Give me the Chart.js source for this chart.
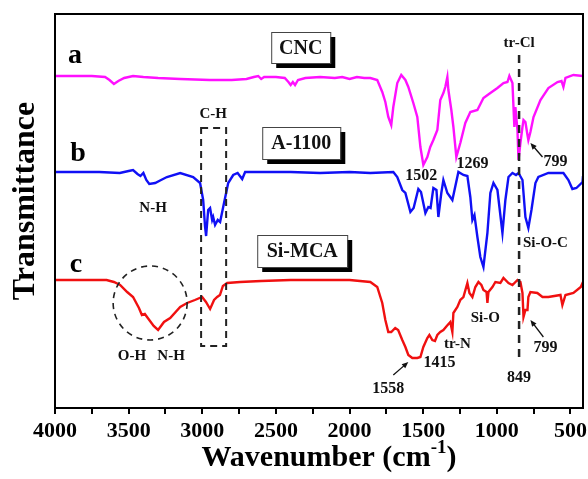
<!DOCTYPE html>
<html>
<head>
<meta charset="utf-8">
<script src="https://cdn.jsdelivr.net/npm/chart.js@4.4.0/dist/chart.umd.min.js"></script>
<style>
  html, body { margin: 0; padding: 0; background: #fff; }
  #wrap { width: 588px; height: 479px; }
</style>
</head>
<body>
<div id="wrap"><canvas id="ftir" width="588" height="479"></canvas></div>
<script>
// x axis ticks (wavenumber, cm-1)
const xTickValues = [4000, 3750, 3500, 3250, 3000, 2750, 2500, 2250, 2000, 1750, 1500, 1250, 1000, 750, 500];
const xLabels = [4000, 3500, 3000, 2500, 2000, 1500, 1000, 500];

// [wavenumber, offset transmittance]
const cncPoints = [
  [4000,83],[3750,83],[3660,82.75],[3630,82],[3600,81],[3570,81.75],[3530,82.5],[3470,83],[3400,82.75],
  [3300,82.5],[3150,82.25],[2950,82],[2800,82],[2700,82.25],[2650,82.75],[2620,83],[2600,82.25],[2580,82.75],
  [2500,82.75],[2440,82.5],[2415,81.5],[2400,80.75],[2385,81.5],[2370,80.75],[2350,82],[2300,82.5],[2200,82.75],
  [2100,82.5],[2050,82.75],[2000,82.25],[1950,82.75],[1900,82.5],[1859,82.5],[1812,82],[1778,79],[1757,76.5],
  [1737,72.75],[1717,70.75],[1703,75.25],[1676,81.25],[1649,83.25],[1621,82],[1601,80.25],[1567,76.25],
  [1540,72.75],[1519,65.25],[1499,60.75],[1472,62.75],[1452,65.25],[1431,67],[1404,69.5],[1384,77],[1363,78.75],
  [1350,80.25],[1336,82.75],[1329,79.5],[1316,76.25],[1309,74.5],[1295,70.25],[1275,62.75],[1248,66.25],
  [1214,71.25],[1180,74],[1132,74.5],[1091,77.5],[1044,78.75],[996,80],[955,81.25],[928,81.5],[915,83],
  [894,81.25],[887,75.25],[881,70.25],[874,75.25],[860,69.5],[853,62],[840,66.25],[826,70.25],[819,72],
  [806,71.5],[792,68.25],[786,67],[772,69],[751,72.75],[704,77],[650,80],[588,81.5],[561,81.75],[548,80.25],
  [534,82.5],[480,83.25],[415,83]
];
const a1100Points = [
  [4000,59],[3700,59],[3560,58.75],[3500,59.25],[3470,59.5],[3440,58.5],[3420,58],[3400,58.75],[3380,57],
  [3360,56],[3320,56.25],[3280,57],[3240,57.75],[3150,58.75],[3062,57.75],[3015,56.25],[2994,52],[2981,45.25],
  [2974,43],[2960,49.5],[2947,50],[2933,47],[2926,47.75],[2913,45.75],[2895,47],[2879,46.5],[2858,50.25],
  [2824,56.25],[2790,58.25],[2760,58.75],[2729,57.25],[2709,59],[2607,59],[2400,59],[2200,58.75],[2000,59],
  [1859,58.75],[1703,59],[1676,57.75],[1642,54.5],[1621,53.75],[1587,49],[1565,50],[1533,54.75],[1515,54],
  [1485,48.75],[1465,50.25],[1450,50],[1431,55],[1410,54.5],[1397,47.75],[1377,53.75],[1363,57],[1336,53.75],
  [1302,52],[1261,59],[1227,58.25],[1200,58],[1180,52.75],[1166,47],[1152,48.25],[1132,42.75],[1112,37.75],
  [1091,35.25],[1064,43.75],[1044,53.75],[1023,56.25],[996,54.5],[962,43.75],[942,52],[921,57.75],[894,58.75],
  [870,58.25],[853,58.75],[826,57],[806,47.75],[786,45],[765,49.5],[738,56.25],[718,57.75],[650,58.75],
  [548,58.75],[514,57],[487,54.75],[460,55],[418,56.5],[415,58]
];
const simcaPoints = [
  [4000,32],[3800,32],[3650,32],[3600,31.5],[3558,30.75],[3510,29],[3470,27.75],[3430,25],[3410,23.25],
  [3390,23.5],[3370,22.5],[3330,20.5],[3300,19.5],[3260,21.5],[3218,22.5],[3150,25.25],[3103,26.25],[3050,27],
  [3001,27.75],[2975,26.5],[2947,24.75],[2920,27],[2899,27.75],[2880,28.25],[2860,30.5],[2831,31.25],[2743,31.5],
  [2600,31.75],[2400,32],[2200,32],[2000,32],[1859,31.5],[1812,30.25],[1778,26.25],[1757,22],[1737,19],[1717,19],
  [1690,20],[1670,19.5],[1642,17],[1621,15.25],[1601,13.25],[1574,12.5],[1540,12.5],[1519,12.75],[1499,15.25],
  [1472,17.5],[1458,18.25],[1438,17],[1420,16.75],[1404,18.25],[1384,19],[1363,19.5],[1340,20.5],[1316,21.5],
  [1302,19],[1295,23.75],[1268,25.25],[1248,27],[1227,27.75],[1200,31.25],[1186,28.75],[1166,27.75],[1146,30.25],
  [1125,31.5],[1105,30.75],[1091,29.5],[1070,29],[1064,26.25],[1057,29],[1030,30.25],[1010,31.5],[976,31.25],
  [955,32.5],[921,31.25],[894,30.75],[860,32],[840,31.5],[826,28.75],[819,22.75],[806,24.5],[792,24.5],
  [786,27.75],[772,29],[725,28.75],[690,27.75],[650,27.75],[568,28.25],[555,25.75],[534,28.25],[480,28.75],
  [430,30.25],[415,31.5]
];

// annotations, anchored in data units
const curveLetters = [
  { text: 'a', wn: 3864, t: 86.25 },
  { text: 'b', wn: 3844, t: 61.75 },
  { text: 'c', wn: 3857, t: 34 }
];
const boxLabels = [
  { text: 'CNC', wn: [2532, 2131], t: [94, 86.25] },
  { text: 'A-1100', wn: [2593, 2063], t: [70.25, 62.25] },
  { text: 'Si-MCA', wn: [2627, 2016], t: [43.25, 35.25] }
];
const bandLabels = [
  { text: 'C-H', wn: 2926, t: 72.5, size: 15 },
  { text: 'N-H', wn: 3334, t: 49, size: 15 },
  { text: 'O-H', wn: 3477, t: 12, size: 15 },
  { text: 'N-H', wn: 3212, t: 12, size: 15 },
  { text: 'tr-Cl', wn: 849, t: 90.25, size: 15 },
  { text: '1502', wn: 1513, t: 57, size: 16 },
  { text: '1269', wn: 1166, t: 60, size: 16 },
  { text: '799', wn: 602, t: 60.5, size: 16 },
  { text: 'Si-O-C', wn: 670, t: 40.25, size: 15 },
  { text: 'Si-O', wn: 1078, t: 21.5, size: 15 },
  { text: 'tr-N', wn: 1268, t: 15, size: 15 },
  { text: '1415', wn: 1390, t: 10.25, size: 16 },
  { text: '1558', wn: 1737, t: 3.75, size: 16 },
  { text: '799', wn: 670, t: 14, size: 16 },
  { text: '849', wn: 849, t: 6.5, size: 16 }
];
const arrows = [
  { from: [690, 62.75], to: [772, 66.25] },
  { from: [684, 17.75], to: [772, 22] },
  { from: [1703, 8.25], to: [1601, 11.5] }
];
const chBox = { wn: [3008, 2838], t: [70, 15.5] };
const ohCircle = { wn: 3354, t: 26.25 };
const clLine = { wn: 849, t: [88.25, 11.25] };

const FONT = "'Liberation Serif', 'Times New Roman', serif";

const annotate = {
  id: 'annotate',
  afterDatasetsDraw(chart) {
    const { ctx, chartArea: a } = chart;
    const x = chart.scales.x, y = chart.scales.y;
    const px = v => x.getPixelForValue(v);
    const py = v => y.getPixelForValue(v);
    ctx.save();

    // frame
    ctx.strokeStyle = '#000';
    ctx.lineWidth = 2;
    ctx.strokeRect(a.left, a.top, a.right - a.left, a.bottom - a.top);

    // dashed C-H box
    ctx.setLineDash([7, 5]);
    ctx.lineWidth = 2;
    ctx.strokeStyle = '#222';
    ctx.strokeRect(px(chBox.wn[0]), py(chBox.t[0]), px(chBox.wn[1]) - px(chBox.wn[0]), py(chBox.t[1]) - py(chBox.t[0]));

    // dashed circle
    ctx.lineWidth = 1.6;
    ctx.setLineDash([6, 5]);
    ctx.beginPath();
    ctx.arc(px(ohCircle.wn), py(ohCircle.t), 37, 0, Math.PI * 2);
    ctx.stroke();

    // tr-Cl line
    ctx.lineWidth = 2.5;
    ctx.setLineDash([8, 6]);
    ctx.beginPath();
    ctx.moveTo(px(clLine.wn), py(clLine.t[0]));
    ctx.lineTo(px(clLine.wn), py(clLine.t[1]));
    ctx.stroke();
    ctx.setLineDash([]);

    // boxed sample names
    boxLabels.forEach(b => {
      const x1 = px(b.wn[0]), x2 = px(b.wn[1]), y1 = py(b.t[0]), y2 = py(b.t[1]);
      ctx.fillStyle = '#000';
      ctx.fillRect(x1 + 5, y1 + 5, x2 - x1, y2 - y1);
      ctx.fillStyle = '#fff';
      ctx.fillRect(x1, y1, x2 - x1, y2 - y1);
      ctx.lineWidth = 1;
      ctx.strokeStyle = '#444';
      ctx.strokeRect(x1 + 0.5, y1 + 0.5, x2 - x1, y2 - y1);
      ctx.fillStyle = '#111';
      ctx.font = `bold 20px ${FONT}`;
      ctx.textAlign = 'center';
      ctx.textBaseline = 'middle';
      ctx.fillText(b.text, (x1 + x2) / 2, (y1 + y2) / 2 + 1);
    });

    // curve letters
    ctx.fillStyle = '#000';
    ctx.textBaseline = 'alphabetic';
    ctx.textAlign = 'center';
    ctx.font = `bold 28px ${FONT}`;
    curveLetters.forEach(l => ctx.fillText(l.text, px(l.wn), py(l.t)));

    // band labels
    ctx.fillStyle = '#111';
    bandLabels.forEach(l => {
      ctx.font = `bold ${l.size}px ${FONT}`;
      ctx.fillText(l.text, px(l.wn), py(l.t));
    });

    // arrows
    ctx.strokeStyle = '#111';
    ctx.fillStyle = '#111';
    ctx.lineWidth = 1.3;
    arrows.forEach(ar => {
      const x1 = px(ar.from[0]), y1 = py(ar.from[1]), x2 = px(ar.to[0]), y2 = py(ar.to[1]);
      const ang = Math.atan2(y2 - y1, x2 - x1);
      ctx.beginPath();
      ctx.moveTo(x1, y1);
      ctx.lineTo(x2 - 4 * Math.cos(ang), y2 - 4 * Math.sin(ang));
      ctx.stroke();
      ctx.beginPath();
      ctx.moveTo(x2, y2);
      ctx.lineTo(x2 - 7 * Math.cos(ang - 0.4), y2 - 7 * Math.sin(ang - 0.4));
      ctx.lineTo(x2 - 7 * Math.cos(ang + 0.4), y2 - 7 * Math.sin(ang + 0.4));
      ctx.closePath();
      ctx.fill();
    });

    // axis titles
    ctx.fillStyle = '#000';
    ctx.save();
    ctx.translate(34, (a.top + a.bottom) / 2 - 10);
    ctx.rotate(-Math.PI / 2);
    ctx.font = `bold 32px ${FONT}`;
    ctx.textAlign = 'center';
    ctx.fillText('Transmittance', 0, 0);
    ctx.restore();

    const main = 'Wavenumber (cm', sup = '-1', close = ')';
    ctx.font = `bold 30px ${FONT}`;
    const w1 = ctx.measureText(main).width, w3 = ctx.measureText(close).width;
    ctx.font = `bold 19px ${FONT}`;
    const w2 = ctx.measureText(sup).width;
    let tx = (a.left + a.right) / 2 + 10 - (w1 + w2 + w3) / 2;
    const ty = 466;
    ctx.textAlign = 'left';
    ctx.font = `bold 30px ${FONT}`;
    ctx.fillText(main, tx, ty);
    tx += w1;
    ctx.font = `bold 19px ${FONT}`;
    ctx.fillText(sup, tx, ty - 13);
    tx += w2;
    ctx.font = `bold 30px ${FONT}`;
    ctx.fillText(close, tx, ty);

    ctx.restore();
  }
};

const toXY = pts => pts.map(([wn, t]) => ({ x: wn, y: t }));

new Chart(document.getElementById('ftir'), {
  type: 'line',
  data: {
    datasets: [
      { label: 'CNC', data: toXY(cncPoints), borderColor: '#ff10ff', borderWidth: 2.4, pointRadius: 0, tension: 0 },
      { label: 'A-1100', data: toXY(a1100Points), borderColor: '#1010f5', borderWidth: 2.4, pointRadius: 0, tension: 0 },
      { label: 'Si-MCA', data: toXY(simcaPoints), borderColor: '#f01010', borderWidth: 2.4, pointRadius: 0, tension: 0 }
    ]
  },
  options: {
    responsive: false,
    animation: false,
    devicePixelRatio: 1,
    layout: { padding: { top: 14, right: 5, left: 0, bottom: 0 } },
    plugins: { legend: { display: false }, tooltip: { enabled: false } },
    scales: {
      x: {
        type: 'linear',
        reverse: true,
        min: 415,
        max: 4000,
        afterBuildTicks: s => { s.ticks = xTickValues.map(v => ({ value: v })); },
        afterFit: s => { s.height = 71; s.paddingLeft = 0; s.paddingRight = 0; },
        ticks: {
          autoSkip: false,
          maxRotation: 0,
          padding: 4,
          color: '#000',
          font: { family: FONT, size: 22, weight: 'bold' },
          callback: v => xLabels.includes(v) ? String(v) : ''
        },
        grid: { drawOnChartArea: false, drawTicks: true, tickLength: 6, color: '#000', lineWidth: 2 },
        border: { color: '#000', width: 2 }
      },
      y: {
        min: 0,
        max: 98.5,
        afterFit: s => { s.width = 55; },
        ticks: { display: false },
        grid: { display: false },
        border: { color: '#000', width: 2 }
      }
    }
  },
  plugins: [annotate]
});
</script>
</body>
</html>
